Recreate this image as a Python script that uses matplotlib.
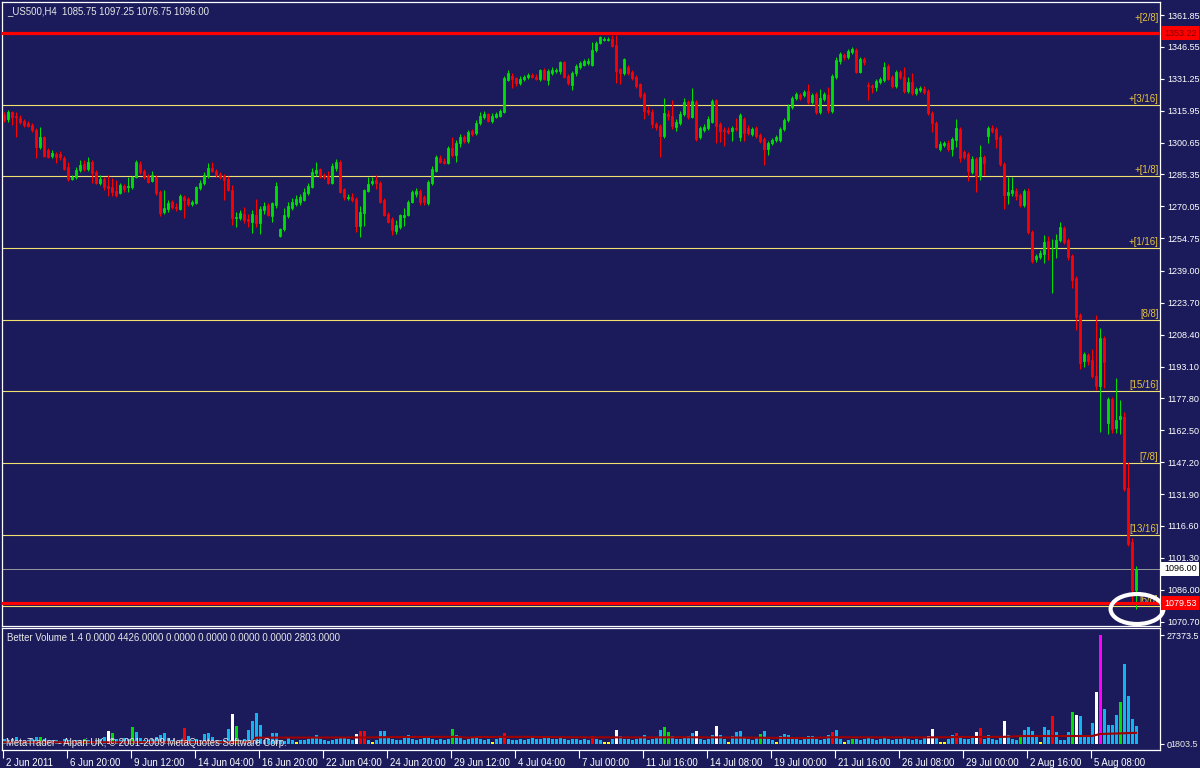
import matplotlib
matplotlib.use('Agg')
import matplotlib.pyplot as plt
from matplotlib.patches import Ellipse
from matplotlib.transforms import blended_transform_factory, ScaledTranslation

plt.rcParams['font.family'] = ['Liberation Sans', 'DejaVu Sans']

BG = '#1b1b5b'
UP = '#00e000'
DOWN = '#ff0000'
LEVEL = '#f2e070'
LABEL = '#e8c440'
TXT = '#e8e8e8'
FS = 6.9
AXFS = 6.5
W, H = 1200, 768

# ---- data: US500 H4 candles, 2 Jun 2011 .. 8 Aug 2011 ----
symbol = '_US500,H4'
opens = [
    1313.9, 1312.0, 1315.3, 1313.4, 1312.5, 1311.0, 1310.1, 1309.1, 1306.7, 1298.5,
    1303.3, 1297.1, 1294.2, 1295.2, 1295.2, 1293.3, 1288.9, 1283.2, 1284.1, 1287.5,
    1290.4, 1288.0, 1291.3, 1286.5, 1281.3, 1283.2, 1279.8, 1279.3, 1277.4, 1276.5,
    1279.8, 1279.3, 1279.3, 1284.1, 1290.4, 1287.0, 1284.6, 1282.2, 1284.1, 1276.9,
    1267.3, 1268.8, 1272.1, 1269.7, 1268.8, 1274.5, 1273.6, 1271.2, 1271.7, 1278.9,
    1281.3, 1284.6, 1288.5, 1287.0, 1285.6, 1284.6, 1283.2, 1277.9, 1264.5, 1264.5,
    1266.4, 1264.0, 1262.5, 1265.9, 1262.1, 1268.3, 1270.7, 1265.4, 1270.7, 1255.8,
    1259.2, 1265.4, 1269.3, 1271.2, 1272.1, 1273.1, 1276.5, 1279.3, 1286.1, 1288.0,
    1285.1, 1284.6, 1281.3, 1288.5, 1291.3, 1278.4, 1274.0, 1274.5, 1273.6, 1260.6,
    1266.9, 1277.4, 1281.3, 1282.7, 1281.3, 1273.1, 1266.4, 1264.0, 1258.2, 1260.1,
    1264.9, 1265.9, 1272.1, 1276.0, 1277.4, 1274.5, 1271.7, 1281.3, 1287.0, 1293.3,
    1291.8, 1290.9, 1298.1, 1294.7, 1300.5, 1303.3, 1301.4, 1306.2, 1305.3, 1310.1,
    1312.9, 1314.4, 1311.0, 1312.9, 1313.4, 1315.3, 1330.7, 1332.6, 1331.7, 1329.3,
    1331.2, 1332.1, 1333.1, 1332.1, 1331.2, 1335.5, 1330.7, 1334.1, 1335.0, 1335.0,
    1339.3, 1332.6, 1328.3, 1334.1, 1336.9, 1337.9, 1338.9, 1337.9, 1345.1, 1348.5,
    1349.9, 1349.9, 1350.4, 1347.5, 1336.0, 1334.1, 1336.9, 1334.5, 1332.1, 1328.8,
    1324.0, 1316.3, 1315.3, 1309.6, 1308.6, 1303.8, 1314.4, 1313.4, 1308.1, 1310.1,
    1314.4, 1320.1, 1312.9, 1320.1, 1303.3, 1306.7, 1307.7, 1310.5, 1321.1, 1309.6,
    1306.7, 1306.7, 1306.2, 1307.7, 1303.3, 1312.0, 1307.7, 1304.8, 1307.7, 1304.3,
    1302.4, 1297.6, 1300.5, 1301.9, 1301.9, 1307.2, 1311.5, 1317.7, 1322.1, 1323.5,
    1323.5, 1325.4, 1320.1, 1324.0, 1315.3, 1321.6, 1323.5, 1315.8, 1332.1, 1339.8,
    1342.7, 1341.7, 1344.1, 1345.1, 1334.5, 1340.8, 1328.3, 1327.8, 1327.3, 1329.7,
    1330.7, 1337.4, 1332.1, 1327.8, 1334.5, 1332.1, 1325.4, 1329.7, 1324.5, 1325.9,
    1326.4, 1325.4, 1314.9, 1310.1, 1297.6, 1299.5, 1300.5, 1297.6, 1301.9, 1307.2,
    1296.1, 1295.2, 1286.5, 1292.8, 1284.6, 1293.7, 1303.8, 1307.7, 1307.2, 1303.3,
    1290.4, 1275.5, 1276.5, 1277.4, 1275.5, 1270.7, 1277.4, 1257.7, 1244.8, 1245.7,
    1247.2, 1253.4, 1250.0, 1250.1, 1253.9, 1259.7, 1253.9, 1246.2, 1235.7, 1217.9,
    1195.8, 1198.7, 1196.3, 1188.6, 1183.8, 1206.9, 1166.1, 1177.6, 1163.7, 1168.0,
    1168.9, 1134.9, 1108.9, 1085.75]
highs = [
    1315.3, 1316.3, 1315.8, 1315.3, 1313.9, 1312.0, 1311.0, 1310.1, 1307.7, 1308.1,
    1303.8, 1298.1, 1297.1, 1296.1, 1296.6, 1294.2, 1291.3, 1285.1, 1288.9, 1292.3,
    1292.3, 1293.7, 1292.3, 1287.5, 1285.1, 1284.1, 1285.1, 1283.7, 1282.7, 1281.3,
    1280.8, 1284.1, 1284.6, 1292.3, 1291.8, 1288.0, 1285.6, 1287.0, 1285.1, 1277.9,
    1277.9, 1273.1, 1273.1, 1271.7, 1276.0, 1275.5, 1274.5, 1273.1, 1279.8, 1282.7,
    1286.5, 1290.9, 1291.3, 1288.0, 1286.5, 1285.6, 1284.6, 1280.3, 1267.3, 1268.3,
    1269.7, 1266.4, 1268.3, 1273.6, 1270.2, 1272.1, 1271.7, 1272.1, 1281.7, 1259.7,
    1269.3, 1272.1, 1274.0, 1275.5, 1276.0, 1278.9, 1281.3, 1288.5, 1291.3, 1288.5,
    1286.1, 1287.0, 1290.9, 1292.8, 1292.3, 1278.9, 1276.0, 1276.5, 1274.5, 1270.2,
    1278.4, 1284.1, 1284.1, 1285.1, 1282.2, 1274.0, 1267.3, 1264.9, 1263.5, 1266.4,
    1269.3, 1273.1, 1277.9, 1278.9, 1278.4, 1275.5, 1282.7, 1289.4, 1294.7, 1294.7,
    1293.3, 1299.0, 1303.3, 1301.9, 1304.8, 1304.3, 1306.7, 1307.2, 1311.5, 1315.3,
    1315.8, 1314.9, 1314.9, 1315.3, 1316.8, 1332.6, 1335.5, 1334.1, 1332.1, 1332.6,
    1333.1, 1334.1, 1334.1, 1333.6, 1336.0, 1336.5, 1336.0, 1336.9, 1336.5, 1339.8,
    1339.8, 1333.6, 1335.0, 1338.4, 1339.8, 1340.8, 1341.3, 1348.9, 1349.4, 1351.8,
    1351.3, 1351.3, 1352.3, 1352.3, 1336.5, 1341.3, 1337.9, 1335.5, 1333.1, 1329.3,
    1324.9, 1318.2, 1316.8, 1310.5, 1309.6, 1322.1, 1316.3, 1321.1, 1312.0, 1315.8,
    1322.1, 1321.1, 1326.9, 1321.1, 1308.6, 1309.6, 1313.4, 1321.6, 1321.6, 1310.5,
    1308.1, 1308.1, 1308.6, 1312.5, 1314.9, 1312.9, 1309.1, 1308.1, 1308.6, 1305.3,
    1303.3, 1301.4, 1302.9, 1304.3, 1308.1, 1312.5, 1319.2, 1323.0, 1324.9, 1324.5,
    1325.9, 1328.8, 1324.5, 1324.9, 1326.4, 1324.9, 1327.3, 1333.6, 1341.7, 1344.1,
    1343.7, 1345.6, 1346.5, 1346.1, 1341.7, 1341.7, 1329.7, 1328.8, 1331.2, 1332.1,
    1339.3, 1338.4, 1333.1, 1335.5, 1335.5, 1336.9, 1332.1, 1334.1, 1327.3, 1327.8,
    1327.8, 1326.4, 1315.8, 1311.0, 1301.4, 1301.4, 1301.9, 1303.3, 1312.0, 1308.1,
    1297.1, 1296.1, 1294.2, 1293.7, 1299.5, 1294.7, 1308.6, 1309.1, 1308.1, 1304.3,
    1291.3, 1284.1, 1284.1, 1278.9, 1276.5, 1278.4, 1278.9, 1258.7, 1247.2, 1249.1,
    1256.3, 1255.8, 1254.4, 1256.8, 1262.5, 1260.6, 1254.9, 1247.2, 1236.6, 1218.9,
    1200.2, 1199.7, 1201.6, 1217.9, 1211.7, 1207.8, 1178.5, 1178.5, 1187.7, 1177.1,
    1171.3, 1147.3, 1110.9, 1097.25]
lows = [
    1310.5, 1310.5, 1309.1, 1303.3, 1309.6, 1308.1, 1308.1, 1305.7, 1293.3, 1297.6,
    1293.7, 1293.3, 1293.3, 1290.9, 1292.3, 1287.5, 1282.2, 1282.7, 1283.2, 1286.5,
    1287.0, 1287.0, 1281.3, 1280.8, 1280.3, 1277.9, 1275.0, 1275.0, 1274.5, 1276.0,
    1276.9, 1276.9, 1278.4, 1283.7, 1285.6, 1283.2, 1281.3, 1281.7, 1275.5, 1265.4,
    1266.4, 1267.3, 1268.8, 1267.8, 1268.3, 1264.5, 1270.2, 1270.2, 1271.2, 1277.9,
    1280.3, 1283.7, 1286.5, 1284.1, 1283.2, 1273.1, 1277.4, 1261.1, 1260.1, 1263.5,
    1262.1, 1260.1, 1257.3, 1260.1, 1256.8, 1266.4, 1265.4, 1262.5, 1269.3, 1255.3,
    1258.2, 1264.5, 1268.3, 1270.2, 1270.7, 1272.6, 1275.5, 1278.9, 1284.6, 1283.7,
    1283.2, 1280.8, 1280.8, 1287.0, 1276.5, 1273.1, 1273.1, 1272.1, 1257.7, 1255.3,
    1260.6, 1276.9, 1280.3, 1278.4, 1271.7, 1265.4, 1262.1, 1256.3, 1256.8, 1259.2,
    1260.6, 1265.4, 1271.7, 1274.5, 1270.7, 1270.7, 1270.7, 1280.3, 1286.5, 1290.9,
    1290.4, 1290.4, 1293.7, 1291.3, 1298.5, 1300.5, 1300.5, 1303.8, 1304.3, 1309.1,
    1312.0, 1310.5, 1310.1, 1312.5, 1312.9, 1314.9, 1330.2, 1326.9, 1327.8, 1328.3,
    1330.2, 1331.2, 1331.7, 1330.7, 1330.2, 1330.7, 1328.3, 1333.1, 1334.1, 1333.6,
    1331.7, 1328.3, 1325.9, 1332.6, 1336.0, 1337.4, 1337.9, 1337.4, 1344.1, 1348.0,
    1349.4, 1349.4, 1346.5, 1329.3, 1328.8, 1333.1, 1333.1, 1330.7, 1326.9, 1322.1,
    1312.0, 1313.9, 1307.7, 1306.7, 1293.7, 1302.9, 1311.5, 1307.2, 1306.2, 1309.1,
    1313.4, 1312.0, 1312.5, 1301.4, 1302.4, 1305.7, 1306.7, 1310.1, 1300.5, 1300.9,
    1299.0, 1304.8, 1301.4, 1306.2, 1301.4, 1301.4, 1304.3, 1303.8, 1302.9, 1300.5,
    1289.9, 1294.7, 1299.5, 1300.9, 1300.9, 1306.2, 1310.5, 1316.8, 1321.1, 1321.1,
    1322.5, 1319.2, 1319.2, 1314.4, 1314.4, 1320.6, 1314.9, 1314.9, 1331.2, 1338.4,
    1340.3, 1340.8, 1343.2, 1334.1, 1334.1, 1337.9, 1321.1, 1324.5, 1325.4, 1328.8,
    1329.7, 1330.7, 1326.9, 1326.9, 1331.2, 1324.5, 1324.5, 1323.5, 1323.5, 1324.9,
    1324.0, 1313.9, 1305.7, 1298.1, 1296.6, 1298.5, 1296.6, 1294.2, 1298.5, 1291.3,
    1292.8, 1282.2, 1285.6, 1276.9, 1282.7, 1285.1, 1300.5, 1305.3, 1298.1, 1289.4,
    1268.8, 1271.2, 1275.0, 1273.1, 1269.7, 1269.7, 1256.8, 1242.9, 1243.3, 1244.8,
    1242.9, 1244.3, 1228.5, 1245.3, 1253.0, 1252.0, 1244.3, 1230.9, 1210.7, 1192.0,
    1192.9, 1193.9, 1187.7, 1181.9, 1161.7, 1182.9, 1160.8, 1161.3, 1161.3, 1160.8,
    1133.4, 1107.0, 1079.5, 1076.75]
closes = [
    1311.5, 1315.3, 1312.9, 1312.9, 1310.5, 1309.1, 1308.6, 1306.7, 1298.5, 1303.3,
    1294.2, 1293.7, 1295.7, 1293.7, 1293.7, 1288.0, 1283.2, 1284.1, 1287.5, 1289.9,
    1288.0, 1291.3, 1286.1, 1281.3, 1283.2, 1279.3, 1278.9, 1276.9, 1275.5, 1280.3,
    1278.4, 1279.8, 1284.1, 1291.3, 1286.5, 1284.1, 1281.7, 1285.1, 1276.5, 1266.9,
    1269.3, 1271.7, 1269.7, 1269.3, 1275.0, 1273.1, 1271.2, 1272.1, 1279.3, 1281.3,
    1285.1, 1288.5, 1287.0, 1285.1, 1284.1, 1282.7, 1277.9, 1264.5, 1264.9, 1266.9,
    1263.5, 1263.0, 1266.4, 1262.1, 1268.8, 1270.2, 1265.9, 1271.7, 1279.8, 1259.2,
    1265.9, 1270.2, 1272.1, 1273.6, 1274.5, 1276.9, 1279.8, 1286.5, 1287.5, 1284.6,
    1284.1, 1281.3, 1289.4, 1291.3, 1276.9, 1274.5, 1274.5, 1273.1, 1260.6, 1267.3,
    1277.9, 1280.8, 1282.2, 1281.3, 1272.1, 1265.9, 1262.5, 1258.7, 1261.1, 1265.9,
    1265.9, 1272.1, 1276.9, 1277.4, 1272.1, 1272.1, 1281.7, 1288.0, 1293.7, 1291.3,
    1290.9, 1298.1, 1294.7, 1300.5, 1303.3, 1301.4, 1305.7, 1304.8, 1310.1, 1313.4,
    1314.4, 1311.0, 1313.4, 1314.4, 1315.8, 1331.7, 1334.1, 1331.2, 1329.3, 1331.2,
    1332.1, 1333.1, 1332.1, 1331.2, 1335.5, 1331.2, 1335.0, 1335.5, 1335.5, 1339.3,
    1332.1, 1329.3, 1334.1, 1337.4, 1338.9, 1339.8, 1339.8, 1345.1, 1348.5, 1351.3,
    1350.4, 1350.4, 1347.0, 1335.0, 1334.1, 1340.8, 1334.1, 1331.7, 1327.8, 1323.0,
    1315.8, 1315.3, 1309.6, 1308.1, 1303.8, 1314.9, 1313.4, 1308.6, 1310.5, 1314.4,
    1320.1, 1312.9, 1320.6, 1302.4, 1307.7, 1308.1, 1312.0, 1320.6, 1308.6, 1306.2,
    1306.2, 1305.7, 1307.7, 1307.2, 1313.9, 1305.3, 1305.3, 1307.2, 1303.8, 1301.4,
    1297.6, 1300.5, 1301.9, 1303.3, 1307.2, 1311.5, 1318.2, 1322.1, 1324.0, 1322.1,
    1324.9, 1320.1, 1323.5, 1315.3, 1322.1, 1324.0, 1316.3, 1332.6, 1340.3, 1343.2,
    1341.7, 1344.6, 1345.6, 1334.5, 1340.8, 1339.3, 1327.8, 1327.3, 1330.2, 1331.2,
    1336.9, 1331.2, 1327.8, 1334.5, 1332.1, 1325.4, 1329.7, 1324.5, 1326.4, 1326.9,
    1324.9, 1314.9, 1310.1, 1298.5, 1300.0, 1300.5, 1297.6, 1302.4, 1307.7, 1293.3,
    1293.7, 1287.0, 1292.8, 1284.6, 1293.7, 1290.9, 1307.7, 1306.2, 1302.4, 1290.4,
    1275.5, 1276.9, 1277.9, 1275.0, 1270.7, 1277.4, 1257.7, 1243.8, 1246.2, 1247.7,
    1253.0, 1250.1, 1250.1, 1253.9, 1260.1, 1253.0, 1245.7, 1234.7, 1216.9, 1194.9,
    1199.2, 1195.8, 1188.6, 1183.8, 1206.9, 1195.3, 1177.6, 1163.2, 1167.5, 1169.4,
    1134.4, 1108.0, 1085.75, 1096.0]

# Better Volume 1.4 (tick volume) and its bar class:
# n normal, y low, w climax high, r climax down, g churn, m climax + churn
volumes = [
    1260, 1000, 1260, 1760, 1000, 750, 1000, 1260, 1760, 1760,
    1260, 1000, 1000, 1000, 750, 1260, 1000, 750, 1000, 1000,
    1260, 1000, 750, 1000, 1260, 1760, 3260, 2760, 1260, 1000,
    1510, 1260, 4270, 3010, 1510, 1000, 1000, 1260, 1760, 2260,
    2760, 1510, 1000, 750, 1000, 4020, 2010, 1000, 1260, 1000,
    2510, 2760, 1760, 1000, 1000, 1000, 3770, 7530, 4520, 1000,
    1260, 3520, 5780, 7780, 4770, 1000, 1260, 2760, 2760, 1000,
    750, 1760, 1000, 400, 1000, 1000, 1260, 1760, 2260, 1260,
    1000, 750, 1000, 1260, 1760, 1760, 1260, 1000, 2510, 3260,
    3260, 1000, 400, 1000, 3260, 3260, 1510, 1260, 1000, 1000,
    1510, 2260, 1260, 1000, 1260, 1510, 2010, 1260, 1000, 1260,
    1000, 1260, 3770, 2260, 1510, 1000, 1260, 1760, 1760, 1260,
    1000, 1260, 400, 1260, 1510, 2760, 1260, 1000, 1000, 1260,
    1000, 1260, 1510, 1260, 1260, 1510, 2010, 1260, 1260, 1510,
    1260, 1000, 1260, 1260, 1000, 1260, 1000, 2010, 1260, 1000,
    400, 400, 1260, 3520, 2010, 1260, 1260, 1000, 1260, 1510,
    2260, 1000, 1260, 1760, 3520, 4270, 3010, 2010, 1260, 1260,
    1510, 2010, 2760, 3260, 1260, 1000, 1260, 2260, 4520, 2260,
    1260, 400, 2010, 3010, 3260, 1510, 1260, 1000, 1760, 2510,
    3260, 1260, 1000, 400, 2010, 2510, 2260, 1260, 1260, 1000,
    1760, 2010, 2010, 1260, 1000, 1260, 2260, 3010, 3520, 1260,
    400, 1000, 1260, 1260, 1000, 1260, 1510, 1260, 1000, 1260,
    1510, 1260, 1000, 1260, 1260, 1510, 1260, 1000, 1260, 1000,
    1510, 2010, 3770, 1760, 400, 400, 1260, 2260, 2760, 1510,
    1260, 1260, 1510, 3010, 4020, 1260, 2260, 1260, 1000, 1510,
    5780, 2260, 1260, 1000, 2010, 3520, 4270, 3260, 1760, 400,
    4270, 3520, 7030, 3010, 1000, 1000, 3010, 8040, 7280, 7030,
    1760, 1760, 5270, 13060, 27373.5, 8790, 4770, 4770, 7280, 10550,
    20090, 12050, 6280, 4426]
vol_kind = ''.join([
    'nnnnnnnnng', 'nnnnnnnnnn', 'gnnnnnwgnn', 'nngnnnnnnn', 'nnnnnrnnnn',
    'nnnnnnnwgn', 'nnnnnnnnnn', 'nnnynnnnnn', 'nnnnnnnnwr', 'rnynnnnnnn',
    'nnnnnnnnnn', 'nngnnnnnnn', 'nnynnrnnnn', 'nnnnnnnnnn', 'nnnnnnnrnn',
    'yynwnnnnnn', 'nnnnnggnnn', 'nnnwnnnnwn', 'nynnnnnnng', 'nnnynnnnnn',
    'nnnnnnnrnn', 'yngnnnnnnn', 'nnnnnnnnnn', 'nwwnyynnrn', 'nnnwrnnnnn',
    'wnnngnnnny', 'nnrnnnngwn', 'nnnwmnnnng', 'nnnn'])
ma_bars = [0, 62, 63, 90, 100, 113, 116, 118, 130, 140, 160, 170, 180,
           200, 207, 230, 240, 250, 255, 265, 272, 274, 283]
ma_vals = [430, 430, 1590, 1650, 1760, 1800, 1600, 1760, 1800, 1700, 1650,
           1700, 1650, 1500, 1700, 1650, 1760, 1800, 2010, 2010, 2010, 2510, 2803]

date_labels = ['2 Jun 2011', '6 Jun 20:00', '9 Jun 12:00', '14 Jun 04:00',
               '16 Jun 20:00', '22 Jun 04:00', '24 Jun 20:00', '29 Jun 12:00',
               '4 Jul 04:00', '7 Jul 00:00', '11 Jul 16:00', '14 Jul 08:00',
               '19 Jul 00:00', '21 Jul 16:00', '26 Jul 08:00', '29 Jul 00:00',
               '2 Aug 16:00', '5 Aug 08:00']
bars_per_label = 16
price_ticks = [1361.85, 1346.55, 1331.25, 1315.95, 1300.65, 1285.35, 1270.05,
               1254.75, 1239.00, 1223.70, 1208.40, 1193.10, 1177.80, 1162.50,
               1147.20, 1131.90, 1116.60, 1101.30, 1086.00, 1070.70]

# Murrey math levels
murrey_levels = [1353.125, 1318.75, 1284.375, 1250.0, 1215.625, 1181.25,
                 1146.875, 1112.5, 1078.125]
murrey_names = ['+[2/8]', '+[3/16]', '+[1/8]', '+[1/16]', '[8/8]', '[15/16]',
                '[7/8]', '[13/16]', '[6/8]']
murrey_lift = [10, 1, 1, 1, 1, 1, 1, 1, 1]
sr_levels = [1353.22, 1079.53]
vol_scale_max = 27373.5
vol_level = 1803.5

# ---- figure ----
fig = plt.figure(figsize=(W / 100, H / 100), dpi=100)
fig.patch.set_facecolor(BG)

ax = fig.add_axes([2 / W, (H - 626) / H, 1158 / W, 624 / H])
vax = fig.add_axes([2 / W, (H - 750) / H, 1158 / W, 122 / H])
for a in (ax, vax):
    a.set_facecolor(BG)
    for s in a.spines.values():
        s.set_color('white')
        s.set_linewidth(0.9)
    a.set_xlim(-0.5, 289)

x = list(range(len(closes)))
cols = [UP if c >= o else DOWN for o, c in zip(opens, closes)]

# level lines
for lv in murrey_levels:
    ax.axhline(lv, color=LEVEL, lw=0.8, zorder=1)
for lv, name, lift in zip(murrey_levels, murrey_names, murrey_lift):
    ax.annotate(name, (288.6, lv), xytext=(0, lift), textcoords='offset pixels',
                ha='right', va='bottom', color=LABEL, fontsize=FS, zorder=2)
ax.axhline(closes[-1], color='#9a9a9a', lw=0.7, zorder=1)

# candles
ax.vlines(x, lows, highs, colors=cols, linewidth=0.75, zorder=3)
ax.bar(x, [abs(c - o) for o, c in zip(opens, closes)],
       bottom=[min(o, c) for o, c in zip(opens, closes)],
       width=0.6, color=cols, edgecolor=cols, linewidth=0.6, zorder=4)

for lv in sr_levels:
    ax.axhline(lv, color='#ff0000', lw=2.3, zorder=5)

ax.add_patch(Ellipse((x[-1] + 0.25, lows[-1]), 13.2, 14.4, fill=False,
                     ec='white', lw=3, clip_on=False, zorder=6))

ax.set_ylim(1068.6, 1368.1)
ax.set_xticks([])
ax.yaxis.tick_right()
ax.set_yticks(price_ticks)
ax.set_yticklabels(['%.2f' % p for p in price_ticks])
ax.tick_params(axis='y', direction='out', length=3, width=0.8, colors='white',
               labelsize=AXFS, pad=2)

tr = blended_transform_factory(ax.transAxes, ax.transData)
boxes = [(sr_levels[0], '#ff0000', '#8a0000'),
         (closes[-1], 'white', 'black'),
         (sr_levels[1], '#ff0000', 'white')]
for lv, fc, tc in boxes:
    ax.annotate('%.2f' % lv, (1, lv), xycoords=tr, xytext=(4, 0),
                textcoords='offset pixels', va='center', ha='left', color=tc,
                fontsize=AXFS, annotation_clip=False, zorder=7,
                bbox=dict(boxstyle='square,pad=0.3', fc=fc, ec='none'))

fig.text(7 / W, 1 - 11 / H,
         '%s  %.2f %.2f %.2f %.2f' % (symbol, opens[-1], highs[-1], lows[-1], closes[-1]),
         color=TXT, fontsize=FS, va='center', ha='left')

# volume panel
vcol = {'n': '#10b4ee', 'y': '#ffff00', 'w': '#ffffff', 'r': '#ff0000',
        'g': '#00e000', 'm': '#ff00ff'}
vax.bar(x, volumes, width=0.75, color=[vcol[k] for k in vol_kind], linewidth=0, zorder=2)
vax.plot(ma_bars, ma_vals, color='#a00000', lw=1.5, zorder=3)
vax.set_ylim(-1506, vol_scale_max + 1760)
vax.yaxis.tick_right()
vax.set_yticks([0, vol_scale_max])
vax.set_yticklabels(['0', '%.1f' % vol_scale_max])
vax.tick_params(axis='y', direction='out', length=3, width=0.8, colors='white',
                labelsize=AXFS, pad=2)
vtr = blended_transform_factory(vax.transAxes, vax.transData)
vax.annotate('%.1f' % vol_level, (1, 0), xycoords=vtr, xytext=(10, 0),
             textcoords='offset pixels', va='center', ha='left', color=TXT,
             fontsize=AXFS, annotation_clip=False)

vax.set_xticks([i * bars_per_label - 0.25 for i in range(len(date_labels))])
vax.set_xticklabels(date_labels, ha='left')
vax.tick_params(axis='x', direction='out', length=6, width=0.8, colors='white',
                labelsize=FS, pad=0)
off = ScaledTranslation(3 / 100, 0, fig.dpi_scale_trans)
for lab in vax.get_xticklabels():
    lab.set_transform(lab.get_transform() + off)

fig.text(7 / W, 1 - 638 / H,
         'Better Volume 1.4 0.0000 %.4f 0.0000 0.0000 0.0000 0.0000 %.4f'
         % (volumes[-1], ma_vals[-1]),
         color=TXT, fontsize=FS, va='center', ha='left')
fig.text(6 / W, 1 - 743 / H,
         'MetaTrader - Alpari UK, \u00a9 2001-2009 MetaQuotes Software Corp.',
         color=TXT, fontsize=FS, va='center', ha='left')

fig.savefig('out.png', dpi=100, facecolor=BG)
